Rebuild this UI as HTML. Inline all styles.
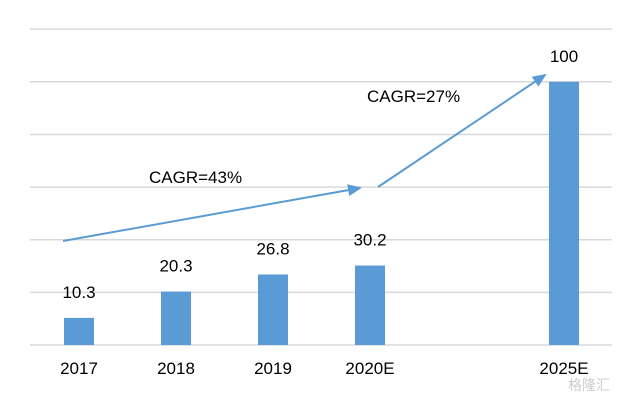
<!DOCTYPE html>
<html><head><meta charset="utf-8"><style>
html,body{margin:0;padding:0;background:#fff;}
svg{display:block;font-family:"Liberation Sans","Noto Sans CJK SC",sans-serif;}
</style></head><body>
<svg id="chart" width="642" height="400">
<defs><marker id="ah" markerWidth="14" markerHeight="12" refX="12" refY="6" orient="auto" markerUnits="userSpaceOnUse" viewBox="0 0 14 12"><path d="M0,0 L14,6 L0,12 Z" fill="#5b9bd5"/></marker></defs>
<g id="grid"></g><g id="bars"></g><g id="labels"></g><g id="xlabels"></g>
<line x1="63" y1="241" x2="360" y2="188" stroke="#5b9bd5" stroke-width="2" marker-end="url(#ah)"/>
<line x1="378" y1="187" x2="545" y2="75" stroke="#5b9bd5" stroke-width="2" marker-end="url(#ah)"/>
<text x="149" y="183" font-size="17" fill="#000">CAGR=43%</text>
<text x="367" y="102" font-size="17" fill="#000">CAGR=27%</text>
<text x="568" y="390" font-size="14" fill="#ccc">格隆汇</text>
</svg>
<script>
const categories=["2017","2018","2019","2020E","2025E"];
const values=[10.3,20.3,26.8,30.2,100];
const slots=[0,1,2,3,5];
const gridTicks=[0,20,40,60,80,100,120];
const ns="http://www.w3.org/2000/svg";
const y0=345,pxPer=2.632;
function yS(v){return y0-v*pxPer;}
function xS(s){return 79+s*97;}
function mk(t,a,p){const e=document.createElementNS(ns,t);for(const k in a)e.setAttribute(k,a[k]);document.getElementById(p).appendChild(e);return e;}
gridTicks.forEach(t=>{const l=mk("line",{x1:30,x2:612,y1:yS(t),y2:yS(t),stroke:"#d9d9d9","stroke-width":1.5},"grid");

});
values.forEach((v,i)=>{const cx=xS(slots[i]);
const r=mk("rect",{x:cx-15,y:yS(v),width:30,height:y0-yS(v),fill:"#5b9bd5"},"bars");


const t=mk("text",{x:cx,y:yS(v)-20,"text-anchor":"middle","font-size":17},"labels");t.textContent=String(v);


const c=mk("text",{x:cx,y:374,"text-anchor":"middle","font-size":17},"xlabels");c.textContent=categories[i];

});
</script>
</body></html>
